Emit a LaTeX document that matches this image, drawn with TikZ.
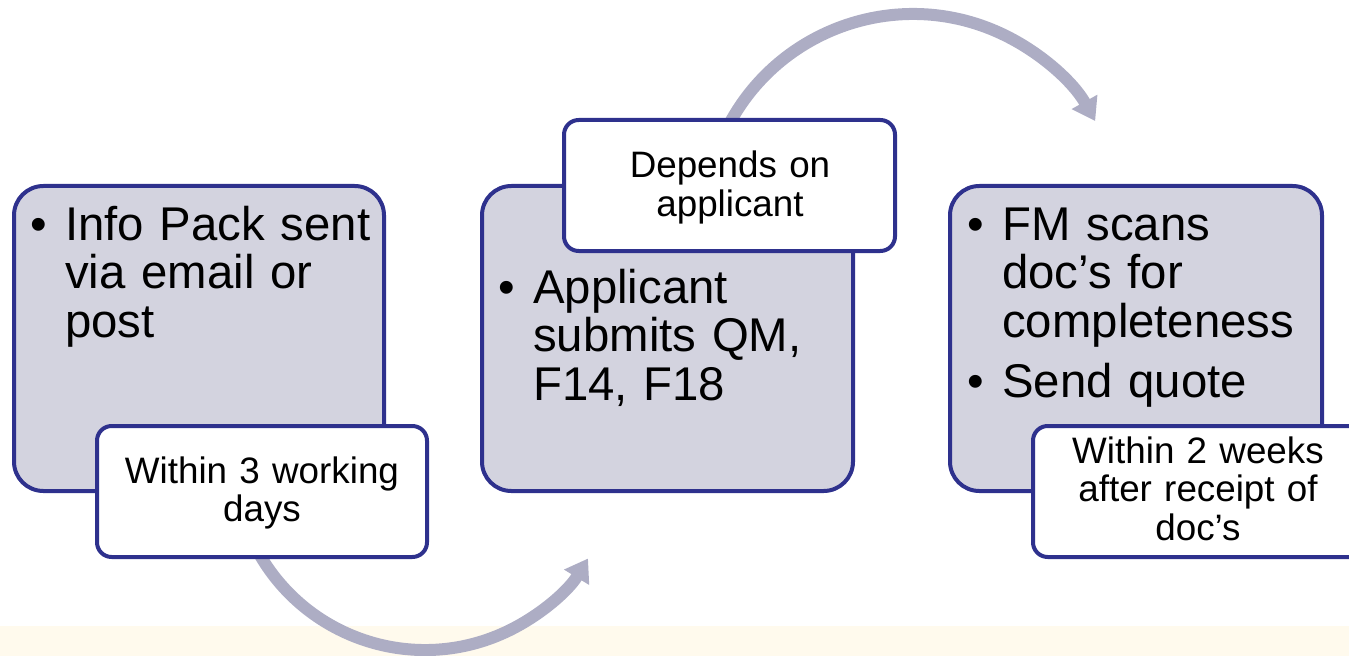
\documentclass[tikz,border=0pt]{standalone}
\usepackage{fontspec}
\setmainfont{Liberation Sans}
\usetikzlibrary{arrows.meta,fit}
\definecolor{navy}{RGB}{46,49,141}
\definecolor{grayfill}{RGB}{211,211,223}
\definecolor{arrowgray}{RGB}{173,173,196}
\definecolor{bandfill}{RGB}{255,250,237}
\tikzset{
  graybox/.style={draw=navy, fill=grayfill, line width=3pt, rounded corners=22pt, inner sep=0pt, rectangle},
  whitebox/.style={draw=navy, fill=white, line width=3pt, rounded corners=11pt, inner sep=0pt, rectangle},
  bigtext/.style={font=\fontsize{35.5}{36.4}\selectfont, text width=245pt, align=left, inner sep=0pt, anchor=base west},
  smalltext/.style={font=\fontsize{27.6}{29}\selectfont, text width=240pt, align=center, inner sep=0pt, anchor=base},
  arcarrow/.style={draw=arrowgray, line width=9pt, -{Triangle[length=16.5pt,width=21pt]}}
}
\newcommand{\bul}{\leavevmode\llap{\textbullet\hspace{14pt}}}
\begin{document}
\begin{tikzpicture}[x=0.75pt,y=-0.75pt]
\useasboundingbox (0,0) rectangle (1349,656);
% bottom band
\fill[bandfill] (0,626) rectangle (1349,656);
% arcs
\coordinate (c1) at (425,459);
\coordinate (c2) at (913,222.5);
\draw[arcarrow] (c1) ++(155:191) arc[start angle=155, end angle=31.4, radius=191];
\draw[arcarrow] (c2) ++(205:208.5) arc[start angle=205, end angle=330.9, radius=208.5];
% gray boxes
\node[graybox, fit={(14,186) (384,491)}] (g1) {};
\node[graybox, fit={(482,186) (853,491)}] (g2) {};
\node[graybox, fit={(950,186) (1322,491)}] (g3) {};
% white boxes
\node[whitebox, fit={(97,426) (427,557)}] (w1) {};
\node[whitebox, fit={(564,120) (895,251)}] (w2) {};
\node[whitebox, fit={(1033,426) (1366,557)}] (w3) {};
% texts
\node[bigtext] (t1) at (65,240) {\bul Info Pack sent\\via email or\\post};
\node[bigtext] (t2) at (533,303) {\bul Applicant\\submits QM,\\F14, F18};
\node[bigtext] (t3) at (1002,240) {\bul FM scans\\doc’s for\\completeness\\[8.6pt]\bul Send quote};
\node[smalltext] (s1) at (262,483) {Within 3 working\\days};
\node[smalltext] (s2) at (730,178) {Depends on\\applicant};
\node[smalltext] (s3) at (1198,463) {Within 2 weeks\\after receipt of\\doc’s};
\end{tikzpicture}
\end{document}
